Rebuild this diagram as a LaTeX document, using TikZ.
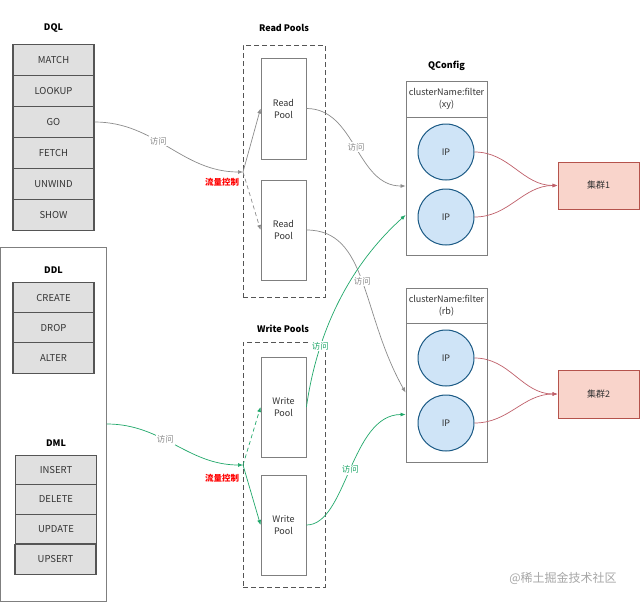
\documentclass[tikz,border=0pt]{standalone}
\usepackage{fontspec}
\setmainfont{Noto Sans CJK SC}
\usetikzlibrary{arrows.meta}
\definecolor{itemfill}{HTML}{E0E0E0}
\definecolor{itemdraw}{HTML}{555555}
\definecolor{boxdraw}{HTML}{7F7F7F}
\definecolor{gline}{HTML}{8C8C8C}
\definecolor{grn}{HTML}{21A86B}
\definecolor{rline}{HTML}{C0606A}
\definecolor{ipfill}{HTML}{CFE4F7}
\definecolor{ipdraw}{HTML}{1B5A85}
\definecolor{clfill}{HTML}{F9D4CB}
\definecolor{cldraw}{HTML}{B5534C}
\definecolor{txt}{HTML}{333333}
\tikzset{
  item/.style={draw=itemdraw,line width=1.2pt,fill=itemfill,minimum width=81pt,minimum height=30.5pt,inner sep=0pt,font=\fontsize{9.5}{11}\selectfont,text=txt},
  ttl/.style={font=\fontsize{9}{11}\selectfont\bfseries,text=black},
  outer/.style={draw=boxdraw,line width=0.9pt,fill=white,inner sep=0pt},
  pooldash/.style={draw=itemdraw,dashed,dash pattern=on 5pt off 3pt,line width=0.8pt,inner sep=0pt},
  pool/.style={draw=boxdraw,line width=0.9pt,fill=white,minimum width=45pt,inner sep=0pt,align=center,font=\fontsize{9}{12}\selectfont,text=txt},
  qbox/.style={draw=boxdraw,line width=0.9pt,fill=white,minimum width=81pt,inner sep=0pt,align=center,font=\fontsize{9}{12.5}\selectfont,text=txt},
  ip/.style={circle,draw=ipdraw,line width=1pt,fill=ipfill,minimum size=56pt,inner sep=0pt,font=\fontsize{9}{11}\selectfont,text=txt},
  cluster/.style={draw=cldraw,line width=1pt,fill=clfill,minimum width=81pt,inner sep=0pt,font=\fontsize{9}{11}\selectfont,text=txt},
  tip/.style={-{Latex[length=5pt,width=4pt]}},
  gconn/.style={tip,draw=gline,line width=0.7pt},
  grconn/.style={tip,draw=grn,line width=0.7pt},
  rconn/.style={tip,draw=rline,line width=0.7pt},
  lbl/.style={fill=white,inner sep=1pt,font=\fontsize{8.5}{10}\selectfont,text=gline},
  glbl/.style={fill=white,inner sep=1pt,font=\fontsize{8.5}{10}\selectfont,text=grn},
  flow/.style={font=\fontsize{8.5}{10}\selectfont\bfseries,text=red},
}
\begin{document}
\begin{tikzpicture}[x=1pt,y=-1pt]
\useasboundingbox[fill=white] (0,0) rectangle (640,603);
% DQL
\node[ttl] (dqlt) at (53.5,28) {DQL};
\node[item] (match) at (53.5,60) {MATCH};
\node[item] (lookup) at (53.5,91) {LOOKUP};
\node[item] (go) at (53.5,122) {GO};
\node[item] (fetch) at (53.5,153) {FETCH};
\node[item] (unwind) at (53.5,184) {UNWIND};
\node[item] (show) at (53.5,215) {SHOW};
% DDL / DML
\node[outer,minimum width=106pt,minimum height=354pt] (ddml) at (53.5,424) {};
\node[ttl] (ddlt) at (53.5,270) {DDL};
\node[item] (create) at (53.5,298) {CREATE};
\node[item] (drop) at (53.5,328) {DROP};
\node[item] (alter) at (53.5,358) {ALTER};
\node[ttl] (dmlt) at (56,443) {DML};
\node[item,minimum height=29.5pt] (insert) at (56,470) {INSERT};
\node[item,minimum height=29.5pt] (delete) at (56,499.5) {DELETE};
\node[item,minimum height=29.5pt] (update) at (56,529) {UPDATE};
\node[item,minimum height=29.5pt] (upsert) at (55.5,559.5) {UPSERT};
% Read pools
\node[ttl] (rpt) at (284,28) {Read Pools};
\node[pooldash,minimum width=82pt,minimum height=252pt] (rpbox) at (284,171) {};
\node[pool,minimum height=101pt] (rp1) at (283.5,108.5) {Read\\Pool};
\node[pool,minimum height=100pt] (rp2) at (283.5,230) {Read\\Pool};
% Write pools
\node[ttl] (wpt) at (283,329) {Write Pools};
\node[pooldash,minimum width=82pt,minimum height=245pt] (wpbox) at (284,464.5) {};
\node[pool,minimum height=100pt] (wp1) at (283.5,407) {Write\\Pool};
\node[pool,minimum height=100pt] (wp2) at (283.5,525) {Write\\Pool};
% QConfig
\node[ttl] (qct) at (446.5,66) {QConfig};
\node[qbox,minimum height=36pt] (qc1h) at (446.5,99) {clusterName:filter\\(xy)};
\node[qbox,minimum height=138pt] (qc1b) at (446.5,186) {};
\node[ip] (ip11) at (446,152) {IP};
\node[ip] (ip12) at (446,217) {IP};
\node[qbox,minimum height=35pt] (qc2h) at (446.5,305.5) {clusterName:filter\\(rb)};
\node[qbox,minimum height=139pt] (qc2b) at (446.5,392.5) {};
\node[ip] (ip21) at (446,358) {IP};
\node[ip] (ip22) at (446,423) {IP};
% clusters
\node[cluster,minimum height=47pt] (cl1) at (598.5,185.5) {集群1};
\node[cluster,minimum height=48pt] (cl2) at (598.5,394) {集群2};
% junctions
\coordinate (rj) at (243,172);
\coordinate (wj) at (243,465);
\node[flow] (rflow) at (222,182) {流量控制};
\node[flow] (wflow) at (222,478) {流量控制};
% connectors read
\draw[gconn] (go.east) to[out=0,in=180] node[lbl,pos=0.42] {访问} (rj);
\draw[gconn] (rj) -- (rp1.west);
\draw[gconn,dashed,dash pattern=on 4pt off 3pt] (rj) -- (rp2.west);
\draw[gconn] (rp1.east) to[out=0,in=180] node[lbl,pos=0.5] {访问} (qc1b.west);
\draw[gconn] (rp2.east) .. controls +(62,0) and +(-45,-80) .. node[lbl,pos=0.5] {访问} (qc2b.west);
% connectors write
\draw[grconn] (ddml.east) to[out=0,in=180] node[lbl,pos=0.42] {访问} (wj);
\draw[grconn,dashed,dash pattern=on 4pt off 3pt] (wj) -- (wp1.west);
\draw[grconn] (wj) -- (wp2.west);
\draw[grconn] (wp1.east) to[out=82,in=222,looseness=0.9] node[glbl,pos=0.28] {访问} ([yshift=-29pt]qc1b.west);
\draw[grconn] (wp2.east) .. controls +(40,0) and +(-55,0) .. node[glbl,pos=0.5] {访问} ([yshift=-22pt]qc2b.west);
% IP to clusters
\draw[rconn] (ip11.east) to[out=0,in=180] (cl1.west);
\draw[rconn] (ip12.east) to[out=0,in=180] (cl1.west);
\draw[rconn] (ip21.east) to[out=0,in=180] (cl2.west);
\draw[rconn] (ip22.east) to[out=0,in=180] (cl2.west);
% watermark
\node[font=\fontsize{12}{14}\selectfont,text=black!35] (wm) at (563,578) {@稀土掘金技术社区};
\end{tikzpicture}
\end{document}
